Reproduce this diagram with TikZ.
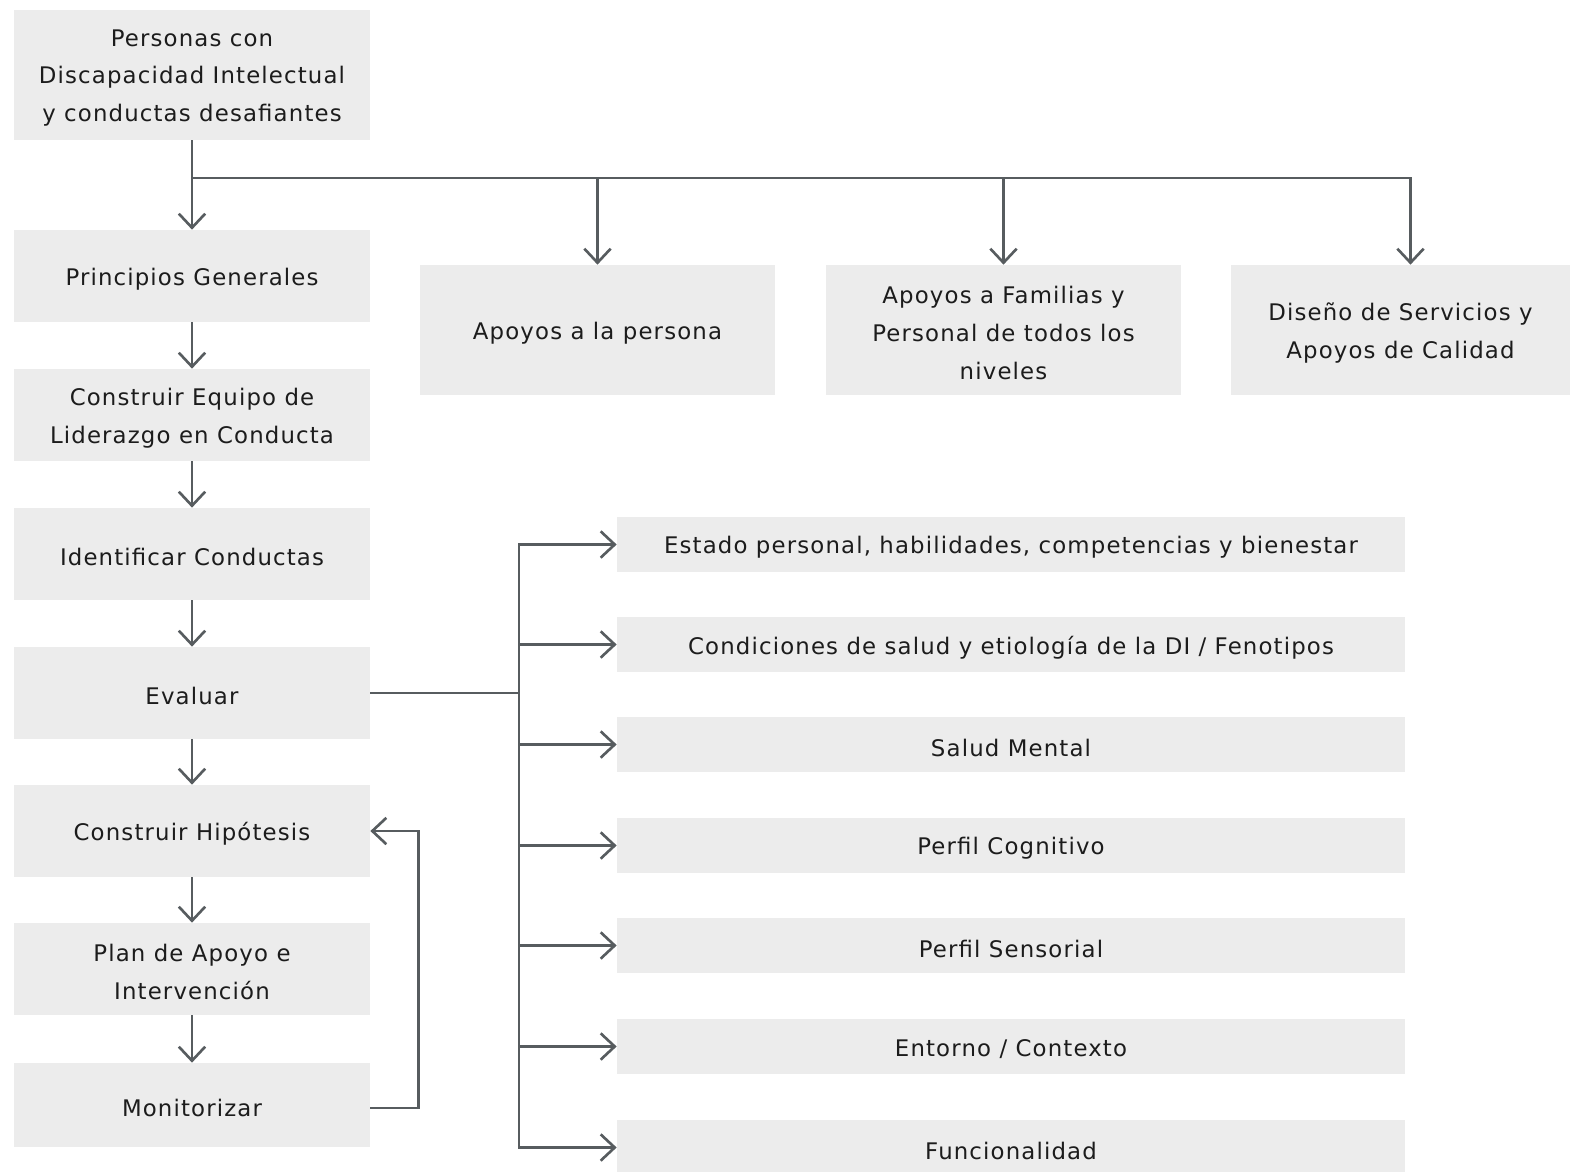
\documentclass[tikz,border=0pt]{standalone}
\usepackage{fontspec}
\setmainfont{DejaVu Sans}[LetterSpace=5]
\usetikzlibrary{arrows.meta}
\definecolor{boxfill}{HTML}{ECECEC}
\definecolor{linec}{HTML}{575C5F}
\definecolor{txt}{HTML}{1C1C1C}
\tikzset{
  box/.style={fill=boxfill, draw=none, inner sep=0pt},
  lbl/.style={inner sep=0pt, align=center, text=txt, font=\fontsize{13}{21.6}\selectfont},
  arr/.style={draw=linec, line width=1.5pt, -{Straight Barb[length=8pt,width=15pt,line width=1.5pt]}},
  ln/.style={draw=linec, line width=1.5pt}
}
\newcommand{\pbox}[6]{%
  \node[box, minimum width={(#4-#2)*0.02cm}, minimum height={(#5-#3)*0.02cm}] (#1) at ({(#2+#4)/2},{(#3+#5)/2}) {};
  \node[lbl] (#1-t) at ([yshift=-0.06cm]#1.center) {#6};}
\begin{document}
\begin{tikzpicture}[x=0.02cm, y=-0.02cm]
\fill[white] (0,0) rectangle (1570,1171);
\useasboundingbox (0,0) rectangle (1570,1171);
% left column
\pbox{p0}{14}{10}{370}{140}{Personas con\\Discapacidad Intelectual\\y conductas desafiantes}
\pbox{p1}{14}{230}{370}{322}{Principios Generales}
\pbox{p2}{14}{369}{370}{461}{Construir Equipo de\\Liderazgo en Conducta}
\pbox{p3}{14}{508}{370}{600}{Identificar Conductas}
\pbox{p4}{14}{647}{370}{739}{Evaluar}
\pbox{p5}{14}{785}{370}{877}{Construir Hipótesis}
\pbox{p6}{14}{923}{370}{1015}{Plan de Apoyo e\\Intervención}
\pbox{p7}{14}{1063}{370}{1147}{Monitorizar}
% top row
\pbox{t1}{420}{265}{775}{395}{Apoyos a la persona}
\pbox{t2}{826}{265}{1181}{395}{Apoyos a Familias y\\Personal de todos los\\niveles}
\pbox{t3}{1231}{265}{1570}{395}{Diseño de Servicios y\\Apoyos de Calidad}
% right column
\pbox{r1}{617}{517}{1405}{572}{Estado personal, habilidades, competencias y bienestar}
\pbox{r2}{617}{617}{1405}{672}{Condiciones de salud y etiología de la DI / Fenotipos}
\pbox{r3}{617}{717}{1405}{772}{Salud Mental}
\pbox{r4}{617}{818}{1405}{873}{Perfil Cognitivo}
\pbox{r5}{617}{918}{1405}{973}{Perfil Sensorial}
\pbox{r6}{617}{1019}{1405}{1074}{Entorno / Contexto}
\pbox{r7}{617}{1120}{1405}{1175}{Funcionalidad}
% left chain
\draw[arr] (p0.south) -- (p1.north);
\draw[arr] (p1.south) -- (p2.north);
\draw[arr] (p2.south) -- (p3.north);
\draw[arr] (p3.south) -- (p4.north);
\draw[arr] (p4.south) -- (p5.north);
\draw[arr] (p5.south) -- (p6.north);
\draw[arr] (p6.south) -- (p7.north);
% top branch
\coordinate (j0) at (192,178);
\draw[arr] (j0) -| (t1.north);
\draw[arr] (j0) -| (t2.north);
\draw[arr] (j0) -| ([xshift=0.2cm]t3.north);
% evaluar branch
\coordinate (jb) at (519,693);
\draw[ln] (p4.east) -- (jb);
\foreach \r in {r1,r2,r3,r4,r5,r6,r7}{\draw[arr] (jb) |- (\r.west);}
% feedback
\draw[arr] ([yshift=-0.06cm]p7.east) -- ++(48,0) |- (p5.east);
\end{tikzpicture}
\end{document}
